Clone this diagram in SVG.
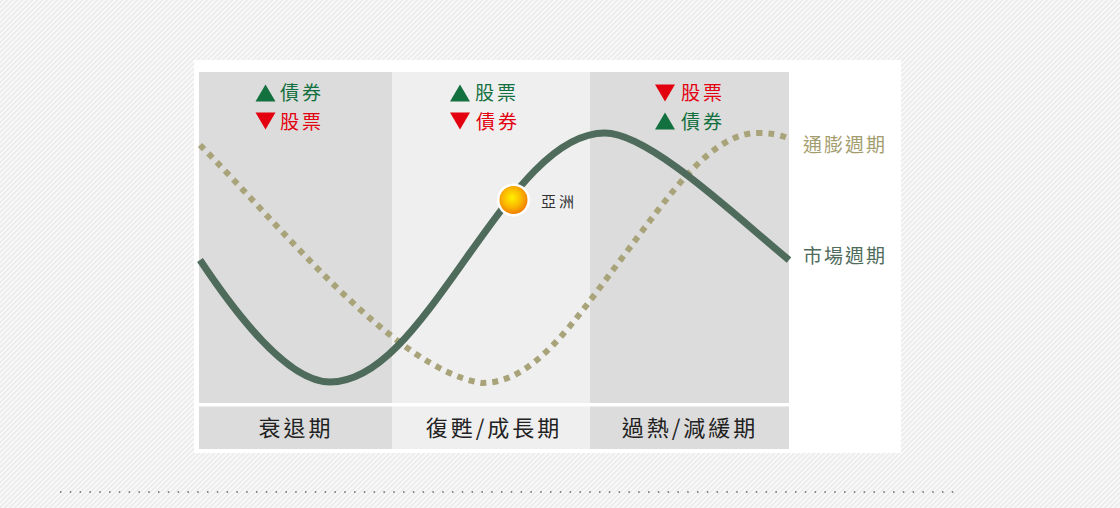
<svg xmlns="http://www.w3.org/2000/svg" width="1120" height="508" viewBox="0 0 1120 508">
  <defs>
    <pattern id="hatch" width="5" height="5" patternUnits="userSpaceOnUse">
      <rect width="5" height="5" fill="#ececec"/>
      <path d="M-1,6 L6,-1 M-1,1 L1,-1 M4,6 L6,4" stroke="#fafafa" stroke-width="1.6"/>
    </pattern>
    <radialGradient id="sun" cx="0.45" cy="0.42" r="0.6">
      <stop offset="0" stop-color="#fff000"/>
      <stop offset="0.55" stop-color="#fbb800"/>
      <stop offset="1" stop-color="#f07a00"/>
    </radialGradient>
    <style>
      .cjk { font-family: "Noto Sans CJK TC", "Noto Sans CJK SC", sans-serif; }
      .sig { font-size: 19px; letter-spacing: 3px; }
      .up { fill: #13703f; }
      .down { fill: #e3000f; }
      .phase { font-size: 22px; fill: #222; letter-spacing: 3px; text-anchor: middle; }
      .dark { fill: #dcdcdc; }
      .light { fill: #efefef; }
    </style>
  </defs>

  <rect width="1120" height="508" fill="url(#hatch)"/>
  <rect x="194" y="60" width="707" height="393" fill="#ffffff"/>

  <g id="col-recession">
    <rect class="dark" x="199" y="72" width="193" height="331"/>
    <rect class="dark" x="199" y="406.5" width="193" height="42.5"/>
    <polygon class="up" points="265.5,84.5 275.5,101.5 255.5,101.5"/>
    <text class="cjk sig up" x="280" y="100">債券</text>
    <polygon class="down" points="255.5,112.5 275.5,112.5 265.5,129.5"/>
    <text class="cjk sig down" x="280" y="129">股票</text>
    <text class="cjk phase" x="296" y="436">衰退期</text>
  </g>

  <g id="col-recovery">
    <rect class="light" x="392" y="72" width="198" height="331"/>
    <rect class="light" x="392" y="406.5" width="198" height="42.5"/>
    <polygon class="up" points="460,84.5 470,101.5 450,101.5"/>
    <text class="cjk sig up" x="475" y="100">股票</text>
    <polygon class="down" points="450,112.5 470,112.5 460,129.5"/>
    <text class="cjk sig down" x="476" y="129">債券</text>
    <text class="cjk phase" x="494" y="436">復甦/成長期</text>
  </g>

  <g id="col-overheat">
    <rect class="dark" x="590" y="72" width="199" height="331"/>
    <rect class="dark" x="590" y="406.5" width="199" height="42.5"/>
    <polygon class="down" points="655,84.5 675,84.5 665,101.5"/>
    <text class="cjk sig down" x="681" y="100">股票</text>
    <polygon class="up" points="665,112.5 675,129.5 655,129.5"/>
    <text class="cjk sig up" x="681" y="129">債券</text>
    <text class="cjk phase" x="690" y="436">過熱/減緩期</text>
  </g>

  <g id="connectors">
    <path id="inflation-cycle" d="M200,145 C280,225 395,370 482,383 C535,383 575,320 622,258 C669,196 710,133 758,133 C770,133 780,135 788,138" fill="none" stroke="#a9a37a" stroke-width="6" stroke-dasharray="6 6"/>
    <path id="market-cycle" d="M200,260 C230,305 285,382 330,382 C380,382 422,320 467,257 C512,194 555,133 605,133 C650,133 740,220 789,260" fill="none" stroke="#4e6b5b" stroke-width="7"/>
  </g>

  <g id="asia">
    <circle cx="513.5" cy="200" r="16.5" fill="#ffffff"/>
    <circle cx="513.5" cy="200" r="14" fill="url(#sun)"/>
    <text class="cjk" x="541" y="207" font-size="15" letter-spacing="3" fill="#333">亞洲</text>
  </g>

  <g id="legend-inflation">
    <text class="cjk" x="803" y="152" font-size="19" letter-spacing="2" fill="#a39d6e">通膨週期</text>
  </g>
  <g id="legend-market">
    <text class="cjk" x="803" y="263" font-size="19" letter-spacing="2" fill="#4e6b5b">市場週期</text>
  </g>

  <line x1="60" y1="492" x2="960" y2="492" stroke="#666" stroke-width="1.5" stroke-dasharray="1.5 8.3"/>
</svg>
